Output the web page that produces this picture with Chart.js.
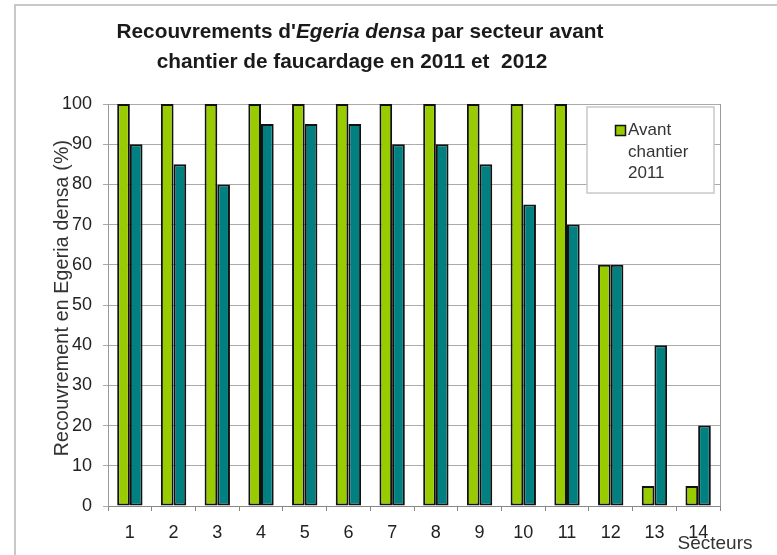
<!DOCTYPE html>
<html>
<head>
<meta charset="utf-8">
<script src="https://cdn.jsdelivr.net/npm/chart.js@4"></script>
<style>
  html, body { margin: 0; padding: 0; background: #fff; }
  canvas { display: block; }
</style>
</head>
<body>
<canvas id="c" width="777" height="555"></canvas>
<script>
// ---- data ----
const categories = ["1","2","3","4","5","6","7","8","9","10","11","12","13","14"];
const values2011 = [100,100,100,100,100,100,100,100,100,100,100,60,5,5];
const values2012 = [90,85,80,95,95,95,90,90,85,75,70,60,40,20];
const seriesNames = ["Avant chantier 2011", "2012"];
const legendLines = ["Avant", "chantier", "2011"];
const titleLine1 = [
  { text: "Recouvrements d'", italic: false },
  { text: "Egeria densa", italic: true },
  { text: " par secteur avant", italic: false }
];
const titleLine2 = "chantier de faucardage en 2011 et  2012";
const yAxisTitle = "Recouvrement en Egeria densa (%)";
const xAxisTitle = "Secteurs";
const yMin = 0, yMax = 100, yStep = 10;

const FONT = "'Liberation Sans', Arial, Helvetica, sans-serif";
const GREEN = "#99cc00";
const TEAL = "#008080";

const decorPlugin = {
  id: "decor",
  beforeDraw(chart) {
    const ctx = chart.ctx;
    ctx.save();
    ctx.fillStyle = "#fff";
    ctx.fillRect(0, 0, chart.width, chart.height);
    // outer frame
    ctx.strokeStyle = "#c8c8c8";
    ctx.lineWidth = 2;
    ctx.beginPath();
    ctx.moveTo(15, 555);
    ctx.lineTo(15, 5);
    ctx.lineTo(777, 5);
    ctx.stroke();
    ctx.restore();
  },
  afterDraw(chart) {
    const ctx = chart.ctx;
    const ca = chart.chartArea;
    ctx.save();
    // right border of plot
    ctx.strokeStyle = "#9a9a9a";
    ctx.lineWidth = 1;
    ctx.beginPath();
    ctx.moveTo(Math.round(ca.right) + 0.5, ca.top);
    ctx.lineTo(Math.round(ca.right) + 0.5, ca.bottom);
    ctx.stroke();

    // title line 1 (mixed italic)
    ctx.fillStyle = "#1a1a1a";
    ctx.textBaseline = "alphabetic";
    const fs = 20.8;
    const fontFor = it => (it ? "italic " : "") + "bold " + fs + "px " + FONT;
    let total = 0;
    titleLine1.forEach(s => { ctx.font = fontFor(s.italic); total += ctx.measureText(s.text).width; });
    let x = 360 - total / 2;
    titleLine1.forEach(s => {
      ctx.font = fontFor(s.italic);
      ctx.textAlign = "left";
      ctx.fillText(s.text, x, 38);
      x += ctx.measureText(s.text).width;
    });
    ctx.font = fontFor(false);
    ctx.textAlign = "center";
    ctx.fillText(titleLine2, 352, 68);

    // y axis title
    ctx.save();
    ctx.translate(63, 298);
    ctx.rotate(-Math.PI / 2);
    ctx.font = "19.5px " + FONT;
    ctx.fillStyle = "#333";
    ctx.textAlign = "center";
    ctx.textBaseline = "middle";
    try { ctx.letterSpacing = "0.2px"; } catch (e) {}
    ctx.fillText(yAxisTitle, 0, 0);
    ctx.restore();

    // x axis title
    ctx.font = "19px " + FONT;
    ctx.fillStyle = "#333";
    ctx.textAlign = "center";
    ctx.textBaseline = "middle";
    ctx.fillText(xAxisTitle, 715, 544);

    // legend box
    ctx.fillStyle = "#fff";
    ctx.fillRect(587, 107, 127, 86);
    ctx.strokeStyle = "#c8c8c8";
    ctx.lineWidth = 1.5;
    ctx.strokeRect(587, 107, 127, 86);
    ctx.fillStyle = GREEN;
    ctx.fillRect(615.5, 125.5, 10, 10);
    ctx.strokeStyle = "#111";
    ctx.lineWidth = 1.5;
    ctx.strokeRect(615.5, 125.5, 10, 10);
    ctx.font = "17px " + FONT;
    ctx.fillStyle = "#333";
    ctx.textAlign = "left";
    ctx.textBaseline = "middle";
    const ly = [130, 152, 173];
    legendLines.forEach((t, i) => ctx.fillText(t, 628, ly[i]));
    ctx.restore();
  }
};

new Chart(document.getElementById("c"), {
  type: "bar",
  data: {
    labels: categories,
    datasets: [
      { label: seriesNames[0], data: values2011, backgroundColor: GREEN, borderColor: "#111", borderWidth: 2, borderSkipped: false },
      { label: seriesNames[1], data: values2012, backgroundColor: TEAL, borderColor: "#111", borderWidth: 2, borderSkipped: false }
    ]
  },
  options: {
    responsive: false,
    animation: false,
    devicePixelRatio: 1,
    layout: { padding: { left: 0, right: 57, top: 104, bottom: 0 } },
    datasets: { bar: { categoryPercentage: 0.58, barPercentage: 1.0 } },
    plugins: {
      legend: { display: false },
      title: { display: false },
      tooltip: { enabled: false }
    },
    scales: {
      x: {
        offset: true,
        grid: { display: true, drawOnChartArea: false, drawTicks: true, tickLength: 5, color: "#888", offset: true },
        border: { display: true, color: "#888", width: 1 },
        ticks: { font: { family: FONT, size: 18 }, color: "#222", padding: 11, maxRotation: 0, autoSkip: false },
        afterFit(s) { s.height = 49; }
      },
      y: {
        min: yMin, max: yMax,
        grid: { color: "#aaa", lineWidth: 1, tickLength: 5, drawTicks: true },
        border: { display: true, color: "#999", width: 1 },
        ticks: { stepSize: yStep, font: { family: FONT, size: 18 }, color: "#222", padding: 11 },
        afterFit(s) { s.width = 108; }
      }
    }
  },
  plugins: [decorPlugin]
});
</script>
</body>
</html>
